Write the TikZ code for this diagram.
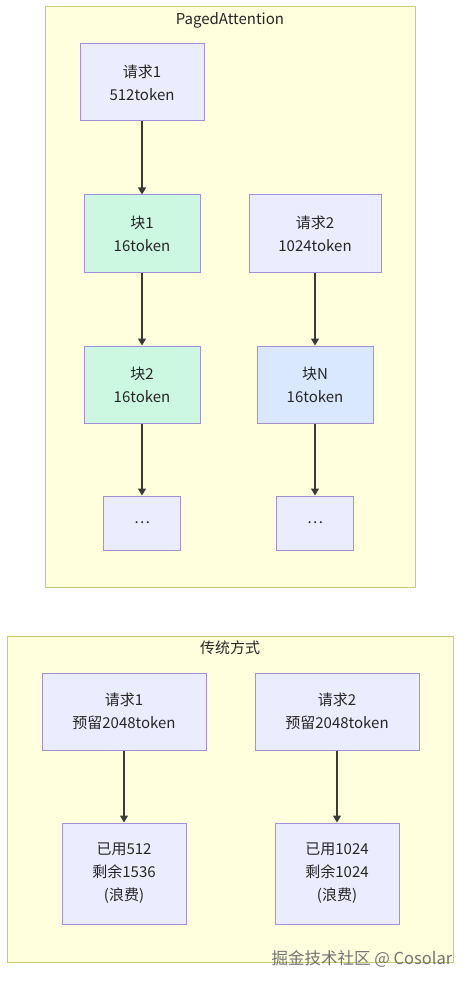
\documentclass[tikz,border=0pt]{standalone}
\usepackage{fontspec}
\setmainfont{Noto Sans CJK SC}
\usetikzlibrary{arrows.meta}
\definecolor{clusterfill}{HTML}{FFFFDE}
\definecolor{clusterline}{HTML}{C8CC6E}
\definecolor{boxfill}{HTML}{ECECFF}
\definecolor{boxline}{HTML}{A48FDC}
\definecolor{blockfill}{HTML}{CCF8E2}
\definecolor{blockNfill}{HTML}{DAE8FF}
\definecolor{edgecol}{HTML}{3A3A3A}

\begin{document}
\begin{tikzpicture}[x=1pt,y=-1pt,
	box/.style={draw=boxline,fill=boxfill,line width=1pt,inner sep=0pt,align=center,
		font=\fontsize{15}{23}\selectfont,text=black!85},
	block/.style={box,fill=blockfill},
	blockN/.style={box,fill=blockNfill},
	edge/.style={draw=edgecol,line width=1.1pt,-{Triangle[length=7pt,width=8pt]}}]
	\useasboundingbox (0,0) rectangle (469,984);
	% subgraph frames
	\draw [clusterline,fill=clusterfill,line width=1pt] (45,7) rectangle (415,587);
	\node (pagedTitle) at (230,20) [font=\fontsize{15}{16}\selectfont,text=black!85] {PagedAttention};
	\draw [clusterline,fill=clusterfill,line width=1pt] (7,636) rectangle (453,962);
	\node (tradTitle) at (230,648) [font=\fontsize{15}{16}\selectfont,text=black!85] {传统方式};
	% PagedAttention
	\node (req1) at (142,82.5) [box,minimum width=124pt,minimum height=77pt] {请求1\\512token};
	\node (blk1) at (142,233.5) [block,minimum width=116pt,minimum height=77pt] {块1\\16token};
	\node (blk2) at (142,384.5) [block,minimum width=116pt,minimum height=77pt] {块2\\16token};
	\node (etc1) at (142,523) [box,minimum width=77pt,minimum height=54pt] {\ldots};
	\node (req2) at (315,233.5) [box,minimum width=132pt,minimum height=77pt] {请求2\\1024token};
	\node (blkN) at (315,384.5) [blockN,minimum width=116pt,minimum height=77pt] {块N\\16token};
	\node (etc2) at (315,523) [box,minimum width=77pt,minimum height=54pt] {\ldots};
	\draw [edge] (req1) -- (blk1);
	\draw [edge] (blk1) -- (blk2);
	\draw [edge] (blk2) -- (etc1);
	\draw [edge] (req2) -- (blkN);
	\draw [edge] (blkN) -- (etc2);
	% traditional
	\node (oldReq1) at (124,711.5) [box,minimum width=164pt,minimum height=77pt] {请求1\\预留2048token};
	\node (used1) at (124,873.5) [box,minimum width=124pt,minimum height=101pt] {已用512\\剩余1536\\(浪费)};
	\node (oldReq2) at (337,711.5) [box,minimum width=164pt,minimum height=77pt] {请求2\\预留2048token};
	\node (used2) at (337,873.5) [box,minimum width=124pt,minimum height=101pt] {已用1024\\剩余1024\\(浪费)};
	\draw [edge] (oldReq1) -- (used1);
	\draw [edge] (oldReq2) -- (used2);
	% watermark
	\node (mark) at (362,959) [font=\fontsize{16.5}{18}\selectfont,text=black!55] {掘金技术社区 @ Cosolar};
\end{tikzpicture}
\end{document}
